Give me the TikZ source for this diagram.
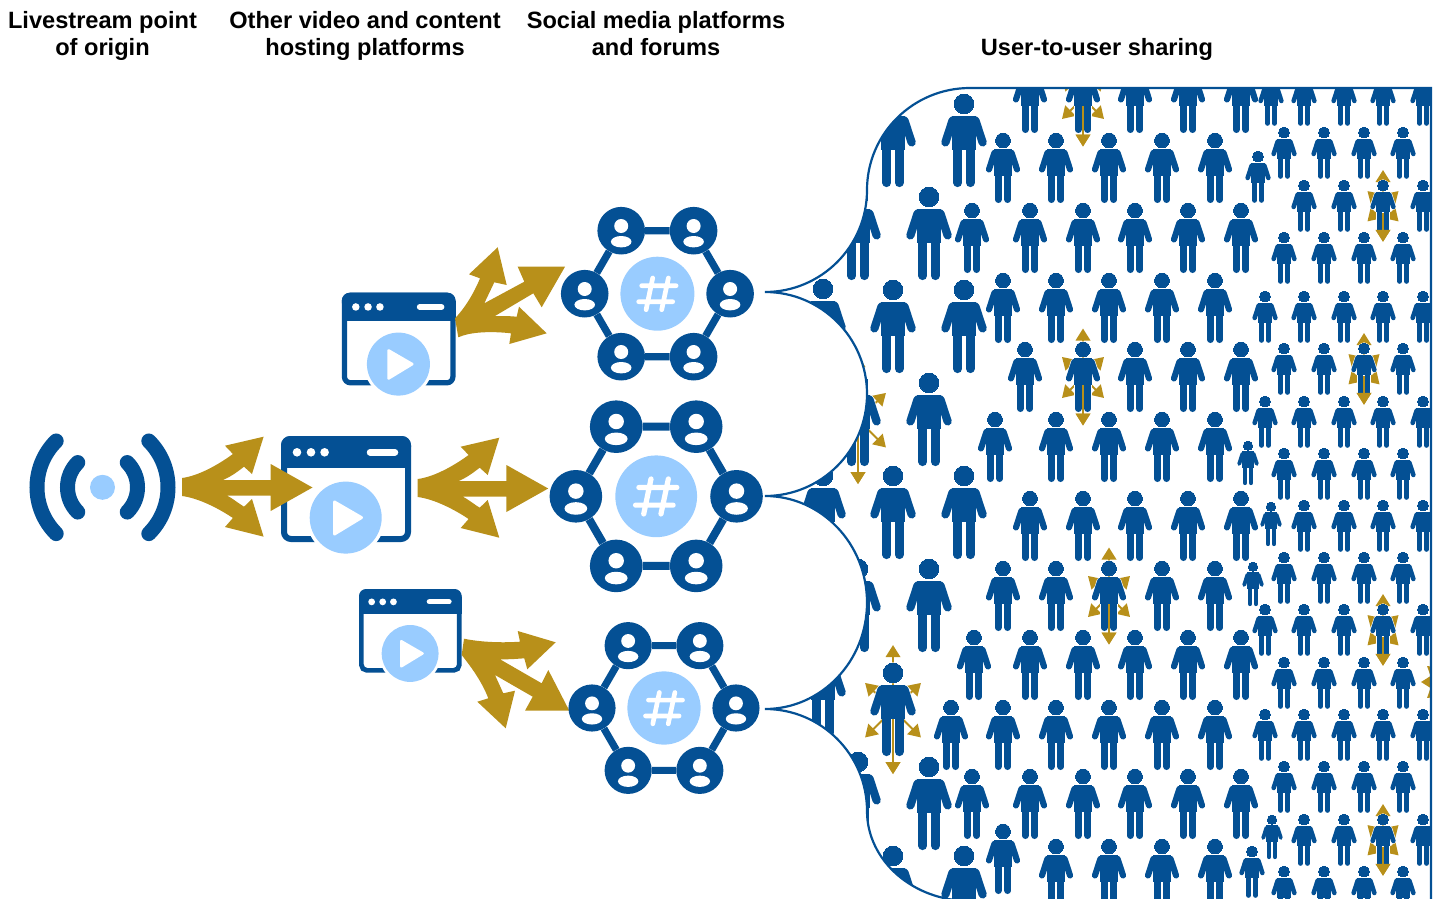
\documentclass[tikz,border=0pt]{standalone}
\usepackage{fontspec}
\setmainfont{Liberation Sans}
\usetikzlibrary{arrows.meta}
\definecolor{navy}{HTML}{045094}
\definecolor{sky}{HTML}{99CCFF}
\definecolor{gold}{HTML}{B8901A}
\tikzset{
  goldarrow/.style={gold,line width=1.9pt,-{Triangle[length=12pt,width=14.5pt]}},
  heading/.style={font=\fontsize{23.6}{27.5}\selectfont\bfseries,align=center,inner sep=0pt,text=black},
  goldfill/.style={fill=gold},
}
% person shape: colour, extra width, scale
\newcommand{\pshape}[3]{%
  \filldraw[#1,line width=#2pt] (0,7.4) circle[radius=7.4];
  \filldraw[#1,line width=#2pt,line join=round] (-8.5,16.8)--(8.5,16.8)--(8.5,42)--(-8.5,42)--cycle;
  \draw[#1,line width=#3*6.2pt+#2pt,line cap=round] (-8.6,19.9)--(-14,36.4) (8.6,19.9)--(14,36.4);
  \draw[#1,line width=#3*6.6pt+#2pt,line cap=round] (-4.7,42)--(-4.7,66.7) (4.7,42)--(4.7,66.7);
}
\newcommand{\pers}[3]{\begin{scope}[shift={(#1,#2)},x=#3pt,y=-#3pt]\pshape{navy}{0}{#3}\end{scope}}
\newcommand{\starpers}[3]{\begin{scope}[shift={(#1,#2)},x=#3pt,y=-#3pt]
  \foreach \tx/\ty in {0/-13.5,-21/15,21/15,-21/56,21/56,0/83.5}{\draw[goldarrow] (0,35)--(\tx,\ty);}
  \pshape{white}{1.2}{#3}\pshape{navy}{0}{#3}
  \draw[goldarrow] (0,44)--(0,83.5);
\end{scope}}
% browser window: x, y, scale
\newcommand{\browser}[3]{\begin{scope}[shift={(#1,#2)},x=#3pt,y=-#3pt]
  \draw[navy,line width=#3*6pt,rounded corners=#3*7pt] (3,3) rectangle (127,103);
  \fill[navy,rounded corners=#3*9pt] (0,0) rectangle (130,20);
  \fill[navy] (0,10) rectangle (130,32);
  \foreach \dx in {16,30,43.6}{\fill[white] (\dx,16.3) circle[radius=4.3];}
  \draw[white,line width=#3*6.5pt,line cap=round] (89,16.3)--(114,16.3);
  \fill[white] (64.7,81.6) circle[radius=39.5];
  \fill[sky] (64.7,81.6) circle[radius=36];
  \fill[white,draw=white,line width=#3*3pt,line join=round] (53.5,66)--(53.5,98)--(80.5,81.6)--cycle;
\end{scope}}
% user node of a network
\newcommand{\unode}[4]{%
  \node[circle,fill=navy,inner sep=0pt,minimum size=#4*47.6pt] (#1) at (#2,#3) {};
  \fill[white] ({#2},{#3-4.7}) circle[radius=7];
  \fill[white] ({#2},{#3+11}) ellipse[x radius=10.3,y radius=5.7];
}
% network: prefix, cx, cy, scale
\newcommand{\net}[4]{\begin{scope}[shift={(#2,#3)},x=#4pt,y=-#4pt]
  \unode{#1a}{-36.2}{-63}{#4}\unode{#1b}{36.2}{-63}{#4}\unode{#1c}{72.7}{0}{#4}
  \unode{#1d}{36.2}{63}{#4}\unode{#1e}{-36.2}{63}{#4}\unode{#1f}{-72.7}{0}{#4}
  \draw[navy,line width=#4*7.3pt] (#1a)--(#1b) (#1b)--(#1c) (#1c)--(#1d) (#1d)--(#1e) (#1e)--(#1f) (#1f)--(#1a);
  \fill[sky] (0,0) circle[radius=37];
  \draw[white,line width=#4*4.7pt,line cap=round]
    (-4.7,-15.7)--(-11.3,16) (11,-15.7)--(4.3,16)
    (-15.7,-8)--(18.7,-8) (-18.7,8)--(15.3,8);
\end{scope}}
\newcommand{\regionpath}{(765,292) arc[start angle=90,end angle=0,radius=102]
  arc[start angle=180,end angle=270,x radius=103,y radius=102]
  -- (1431,88) -- (1431,901) -- (970,901)
  arc[start angle=90,end angle=180,x radius=103,y radius=90]
  arc[start angle=0,end angle=-90,radius=102]
  arc[start angle=90,end angle=-90,x radius=102,y radius=106.5]
  arc[start angle=90,end angle=-90,radius=102] -- cycle}
\newcommand{\goldfork}{(182,478) .. controls (198,476) and (218,465) .. (232.9,454) -- (225,445.7) -- (263.6,436.7) -- (252,474) -- (244,466.7) .. controls (236,473) and (230,477) .. (223,480) -- (270.7,480) -- (270.7,464) -- (312.5,487.5) -- (270.7,511) -- (270.7,495.5) -- (226.8,495.5) .. controls (232,498) and (238,503) .. (244,506.7) -- (252,499) -- (263.6,536.7) -- (225,527) -- (232.9,518) .. controls (218,508) and (198,498) .. (182,496) -- cycle}
\begin{document}
\begin{tikzpicture}[x=1pt,y=-1pt]
\useasboundingbox (0,0) rectangle (1438,899);
\clip (0,0) rectangle (1438,899);
% headings
\node[heading] (h1) at (102.5,36) {Livestream point\\of origin};
\node[heading] (h2) at (365,36) {Other video and content\\hosting platforms};
\node[heading] (h3) at (656,33.5) {Social media platforms\\and forums};
\node[heading] (h4) at (1097,49.5) {User-to-user sharing};
% crowd
\begin{scope}
\clip \regionpath;
\foreach \t/\xs in {63/{1030,1135,1188,1241},133/{1003,1056,1109,1162,1215},203/{972,1030,1083,1135,1188,1241},273/{1003,1056,1109,1162,1215},342/{1025,1135,1188,1241},412/{995,1056,1109,1162,1215},491/{1030,1083,1135,1188,1241},561/{1003,1056,1162,1215},630/{974,1030,1083,1135,1188,1241},700/{951,1003,1056,1109,1162,1215},769/{972,1030,1083,1135,1188,1241},824/{1003},839/{1056,1109,1162,1215}}{
  \foreach \x in \xs {\pers{\x}{\t}{1}}}
\foreach \x/\t in {893/94,964/94,929/187,858/187,823/279,893/280,964/280,929/373,893/466,964/466,823/466,929/559,858/559,823/644,858/752,929/757,893/846,964/846}{\pers{\x}{\t}{1.33}}
\foreach \t/\xs in {74/{1271,1304,1344,1383,1423},127/{1284,1324,1364,1403},151/{1258},180/{1304,1344,1423},232/{1284,1324,1364,1403},291/{1265,1304,1344,1383,1423},343/{1284,1324,1403},396/{1265,1304,1344,1383,1423},448/{1284,1324,1364,1403},500/{1304,1344,1383,1423},552/{1284,1324,1364,1403},604/{1265,1304,1344,1423},657/{1284,1324,1364,1403},709/{1265,1304,1344,1383,1423},761/{1284,1324,1364,1403},814/{1304,1344,1423},866/{1284,1324,1364,1403},846/{1252}}{
  \foreach \x in \xs {\pers{\x}{\t}{0.74}}}
\foreach \x/\t in {1248/441,1271/502,1253/562,1272/815}{\pers{\x}{\t}{0.63}}
% people who share
\starpers{1083}{63}{1}\starpers{1083}{342}{1}\starpers{1109}{561}{1}\starpers{1083}{914}{1}
\starpers{858}{373}{1.33}\starpers{893}{663}{1.33}
\starpers{1383}{180}{0.74}\starpers{1364}{343}{0.74}\starpers{1383}{604}{0.74}\starpers{1383}{814}{0.74}
\coordinate (sc) at (1447,682);
\draw[goldarrow] (sc)--(1421,682);
\draw[goldarrow] (sc)--(1427,666);
\draw[goldarrow] (sc)--(1427,698);
\end{scope}
\draw[navy,line width=2.2pt] \regionpath;
% signal icon
\fill[sky] (102.5,487.3) circle[radius=12.5];
\draw[navy,line width=15pt,line cap=round]
  (102.5,487.3) ++(135:35) arc[start angle=135,end angle=225,radius=35]
  (102.5,487.3) ++(135:65.5) arc[start angle=135,end angle=225,radius=65.5]
  (102.5,487.3) ++(45:35) arc[start angle=45,end angle=-45,radius=35]
  (102.5,487.3) ++(45:65.5) arc[start angle=45,end angle=-45,radius=65.5];
% windows
\browser{281}{436}{1}
\browser{341.8}{292.7}{0.875}
\browser{359}{589}{0.79}
% gold arrows
\fill[goldfill] \goldfork;
\begin{scope}[shift={(235.7,1)}]\fill[goldfill] \goldfork;\end{scope}
\fill[goldfill] (455,318.3) .. controls (465,308) and (474,293) .. (480,278.3) -- (469,274.3) -- (497.7,247.3) -- (506.7,285) -- (494.3,282.3) -- (484.3,303.3) -- (524.3,281.7) -- (517.7,266.7) -- (565,266.7) -- (541.7,307.3) -- (533.3,293.3) -- (495,316) .. controls (503,316) and (510,316) .. (516.7,316.7) -- (519,306.7) -- (546.7,333.3) -- (509.3,344) -- (511,333.3) .. controls (490,331) and (470,332) .. (458.3,337.3) -- cycle;
\fill[goldfill] (464,638.7) .. controls (480,642) and (500,643) .. (520,641.7) -- (517.7,631) -- (555.7,642.3) -- (527.3,669.3) -- (524.3,658.3) .. controls (515,659) and (508,659.5) .. (500,659.3) -- (541.7,683.3) -- (548.3,670) -- (569.3,710.7) -- (525,710.7) -- (532.7,696.7) -- (495,675) -- (503.3,693.3) -- (515,690.7) -- (505.7,728.3) -- (477.3,701.7) -- (488.3,698.3) .. controls (482,682) and (472,668) .. (461.7,655) -- cycle;
% networks
\net{p}{657.4}{293.7}{1}
\net{q}{656.2}{496.3}{1.105}
\net{r}{664}{708}{0.99}
\end{tikzpicture}
\end{document}
